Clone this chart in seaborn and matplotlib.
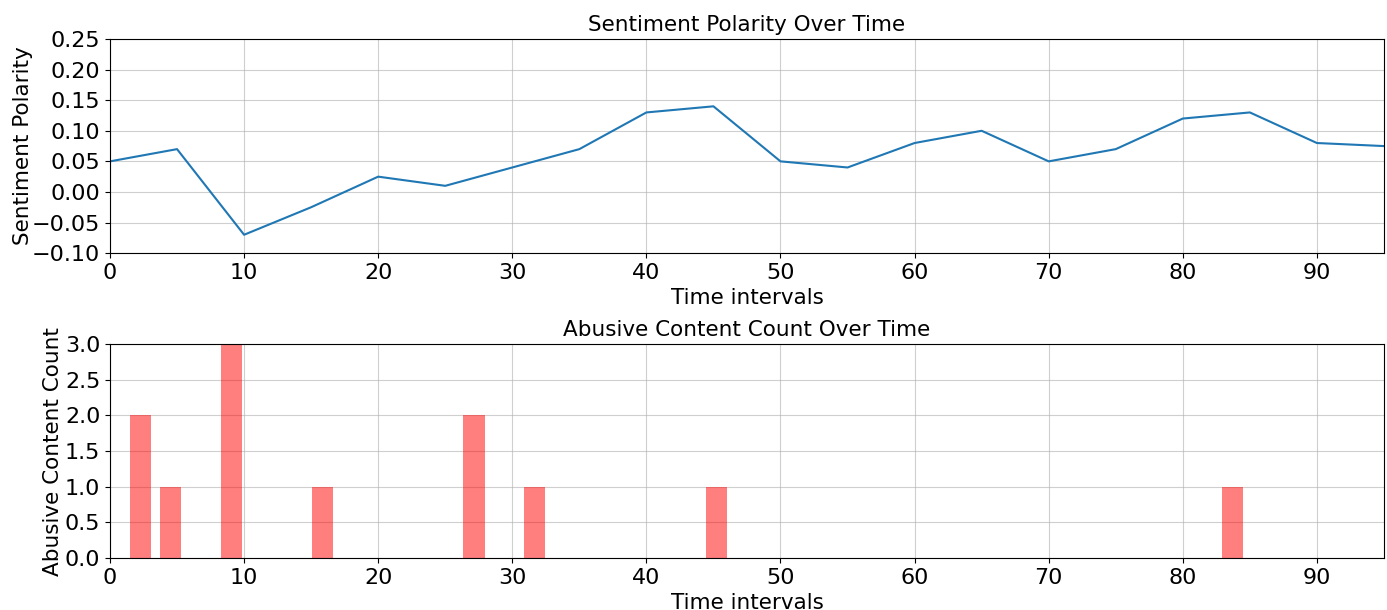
import numpy as np
import pandas as pd
import matplotlib
matplotlib.use('Agg')
import matplotlib.pyplot as plt
import seaborn as sns

# Dados da polaridade de sentimento
tempo = [0, 5, 10, 15, 20, 25, 30, 35, 40, 45, 50, 55, 60, 65, 70, 75, 80, 85, 90, 95]
polaridade = [0.05, 0.07, -0.07, -0.025, 0.025, 0.01, 0.04, 0.07, 0.13, 0.14,
              0.05, 0.04, 0.08, 0.10, 0.05, 0.07, 0.12, 0.13, 0.08, 0.075]

# Dados do conteudo abusivo
tempo_abusivo = [2.26, 4.52, 9.05, 15.83, 27.14, 31.67, 45.24, 83.69]
contagem_abusivo = [2, 1, 3, 1, 2, 1, 1, 1]

df_sent = pd.DataFrame({'Tempo': tempo, 'Polaridade': polaridade})
df_abus = pd.DataFrame({'Tempo': tempo_abusivo, 'Contagem': contagem_abusivo})

plt.rcParams['font.family'] = ['DejaVu Sans']
plt.rcParams['font.size'] = 16

fig, axs = plt.subplots(2, 1, figsize=(13.87, 6.1), dpi=100)
fig.subplots_adjust(left=0.0793, right=0.9978, top=0.936, bottom=0.085, hspace=0.425)

# Grafico de linha
sns.lineplot(x='Tempo', y='Polaridade', data=df_sent, ax=axs[0], color='#1f77b4', linewidth=1.5)
axs[0].set_title('Sentiment Polarity Over Time', fontsize=15.5)
axs[0].set_xlabel('Time intervals', fontsize=15.5)
axs[0].set_ylabel('Sentiment Polarity', fontsize=15.5, labelpad=-1)
axs[0].set_ylim(-0.1, 0.25)
axs[0].set_yticks(np.arange(-0.1, 0.26, 0.05))

# Grafico de barras
axs[1].bar(df_abus['Tempo'], df_abus['Contagem'], width=1.6, color='red', alpha=0.5)
axs[1].set_title('Abusive Content Count Over Time', fontsize=15.5)
axs[1].set_xlabel('Time intervals', fontsize=15.5)
axs[1].set_ylabel('Abusive Content Count', fontsize=15.5, labelpad=1)
axs[1].set_ylim(0, 3)
axs[1].set_yticks(np.arange(0, 3.01, 0.5))

for ax in axs:
    ax.set_xlim(0, 95)
    ax.set_xticks(np.arange(0, 91, 10))
    ax.tick_params(labelsize=16)
    ax.grid(True, color='#b0b0b0', alpha=0.6)
    ax.set_axisbelow(True)

plt.savefig('out.png', dpi=100)
